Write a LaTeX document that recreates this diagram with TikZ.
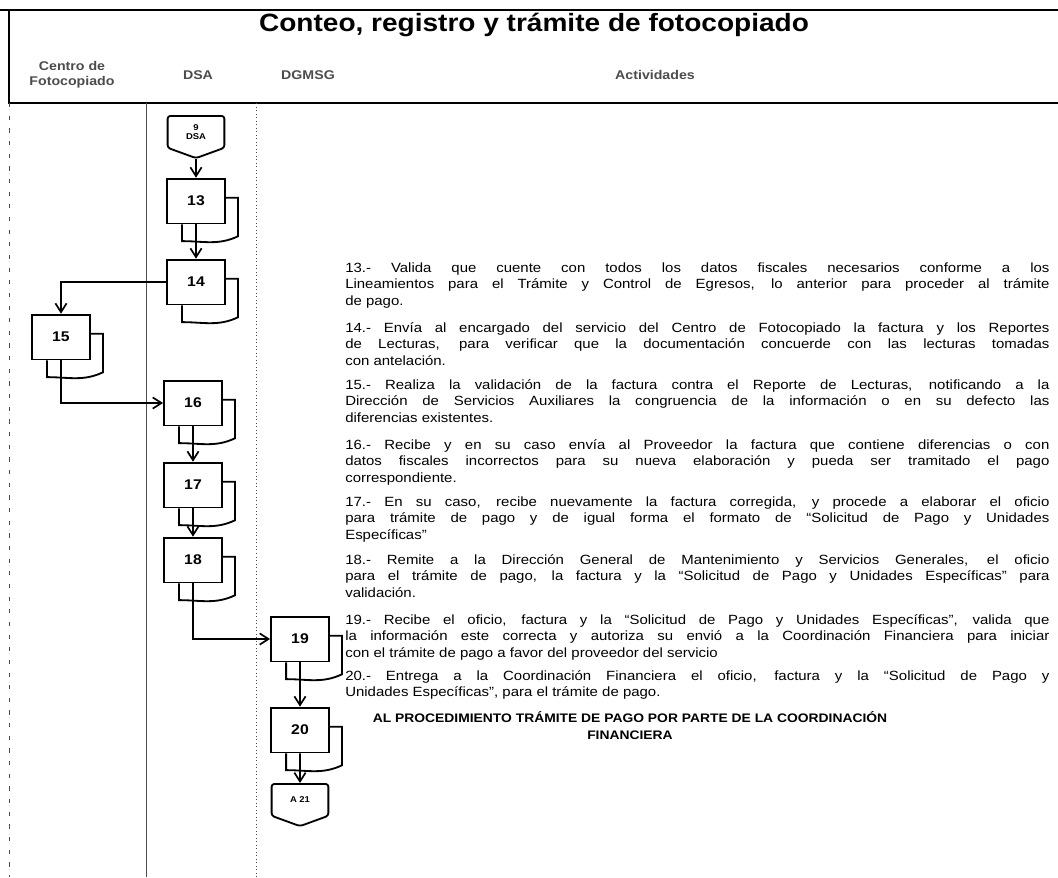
\documentclass[tikz,border=0pt]{standalone}
\usepackage{fontspec}
\setmainfont{Liberation Sans}[FakeStretch=1.12]
\usetikzlibrary{arrows.meta,shapes.symbols}

\tikzset{
	stepbox/.style={draw, line width=1.3pt, minimum width=1.45cm, minimum height=1.12cm, font=\bfseries\fontsize{10}{12}\selectfont},
	linkbox/.style={draw, line width=1.3pt, signal, signal to=south, signal pointer angle=140, minimum width=1.42cm, minimum height=0.9cm, rounded corners=2pt, align=center, inner sep=1pt, font=\bfseries\fontsize{6}{6.5}\selectfont},
	flow/.style={line width=1.2pt, -{Straight Barb[length=2.2mm,width=2.8mm]}},
	sheet/.style={line width=1.3pt},
	activity/.style={anchor=base west, text width=17.6cm, align=justify, inner sep=0pt, font=\fontsize{9.5}{11.8}\selectfont},
	lanehead/.style={font=\bfseries\fontsize{9}{10.5}\selectfont, text=black!70, align=center},
	lane/.style={line width=0.5pt, black!70}
}

% the second sheet behind a step box
\newcommand{\backsheet}[1]{\draw[sheet] ([yshift=-0.5cm]#1.north east) -| ([xshift=0.3cm,yshift=-0.3cm]#1.south east) to[out=205,in=0] ([xshift=0.4cm,yshift=-0.42cm]#1.south west) -- ([xshift=0.4cm]#1.south west);}

\begin{document}
\begin{tikzpicture}[x=0.025cm, y=-0.025cm]
	\useasboundingbox (0,0) rectangle (1058,877);

	% header
	\draw[line width=2pt] (0,10) -- (1058,10);
	\draw[line width=2pt] (9,10) -- (9,103) -- (1058,103);
	\node [font=\bfseries\fontsize{17.8}{21}\selectfont] (title) at (534,25) {Conteo, registro y trámite de fotocopiado};
	\node [lanehead] (hcf) at (72,75) {Centro de\\Fotocopiado};
	\node [lanehead] (hdsa) at (198,75) {DSA};
	\node [lanehead] (hdg) at (308,75) {DGMSG};
	\node [lanehead] (hact) at (655,75) {Actividades};

	% lanes
	\draw[lane] (146,103) -- (146,877);
	\draw[lane, dotted] (256,103) -- (256,877);
	\draw[lane, dash pattern=on 3pt off 6pt] (9,103) -- (9,877);

	% steps
	\node [linkbox, anchor=north] (c9) at (196,115) {9\\DSA};
	\node [stepbox] (b13) at (196,201) {13};
	\node [stepbox] (b14) at (196,282) {14};
	\node [stepbox] (b15) at (61,337) {15};
	\node [stepbox] (b16) at (193,403) {16};
	\node [stepbox] (b17) at (193,485) {17};
	\node [stepbox] (b18) at (193,560) {18};
	\node [stepbox] (b19) at (300,639) {19};
	\node [stepbox] (b20) at (300,730) {20};
	\node [linkbox, anchor=north] (c21) at (300,783) {A 21};

	\backsheet{b13}
	\backsheet{b14}
	\backsheet{b15}
	\backsheet{b16}
	\backsheet{b17}
	\backsheet{b18}
	\backsheet{b19}
	\backsheet{b20}

	\draw[flow] (c9) -- (b13);
	\draw[flow] (b13) -- (b14);
	\draw[flow] (b14.west) -| (b15.north);
	\draw[flow] (b15.south) |- (b16.west);
	\draw[flow] (b16) -- (b17);
	\draw[flow] (b17) -- (b18);
	\draw[flow] (b18.south) |- (b19.west);
	\draw[flow] (b19) -- (b20);
	\draw[flow] (b20) -- (c21);

	% activities
	\node [activity] (t13) at (345,272) {13.- Valida que cuente con todos los datos fiscales necesarios conforme a los\linebreak Lineamientos para el Trámite y Control de Egresos, lo anterior para proceder al trámite\linebreak de pago.};
	\node [activity] (t14) at (345,332) {14.- Envía al encargado del servicio del Centro de Fotocopiado la factura y los Reportes\linebreak de Lecturas, para verificar que la documentación concuerde con las lecturas tomadas\linebreak con antelación.};
	\node [activity] (t15) at (345,389) {15.- Realiza la validación de la factura contra el Reporte de Lecturas, notificando a la\linebreak Dirección de Servicios Auxiliares la congruencia de la información o en su defecto las\linebreak diferencias existentes.};
	\node [activity] (t16) at (345,449) {16.- Recibe y en su caso envía al Proveedor la factura que contiene diferencias o con\linebreak datos fiscales incorrectos para su nueva elaboración y pueda ser tramitado el pago\linebreak correspondiente.};
	\node [activity] (t17) at (345,506) {17.- En su caso, recibe nuevamente la factura corregida, y procede a elaborar el oficio\linebreak para trámite de pago y de igual forma el formato de “Solicitud de Pago y Unidades\linebreak Específicas”};
	\node [activity] (t18) at (345,564) {18.- Remite a la Dirección General de Mantenimiento y Servicios Generales, el oficio\linebreak para el trámite de pago, la factura y la “Solicitud de Pago y Unidades Específicas” para\linebreak validación.};
	\node [activity] (t19) at (345,624) {19.- Recibe el oficio, factura y la “Solicitud de Pago y Unidades Específicas”, valida que\linebreak la información este correcta y autoriza su envió a la Coordinación Financiera para iniciar\linebreak con el trámite de pago a favor del proveedor del servicio};
	\node [activity] (t20) at (345,680) {20.- Entrega a la Coordinación Financiera el oficio, factura y la “Solicitud de Pago y\linebreak Unidades Específicas”, para el trámite de pago.};
	\node [anchor=base, align=center, font=\bfseries\fontsize{8.8}{11.8}\selectfont] (fin) at (630,739) {AL PROCEDIMIENTO TRÁMITE DE PAGO POR PARTE DE LA COORDINACIÓN\\FINANCIERA};
\end{tikzpicture}
\end{document}
